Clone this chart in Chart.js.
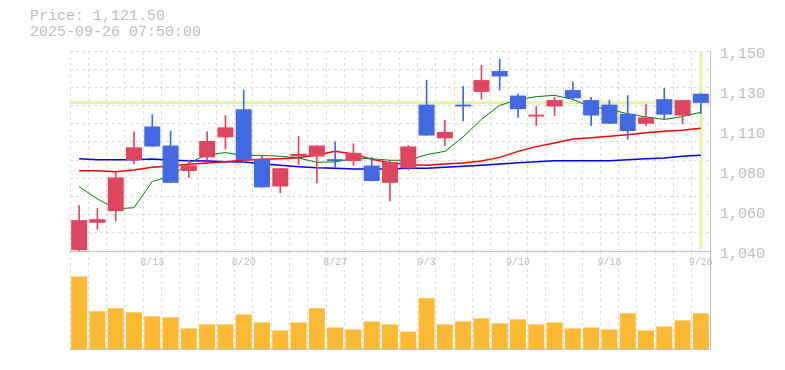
<!DOCTYPE html>
<html lang="ja">
<head>
<meta charset="UTF-8">
<title>Price chart</title>
<script src="https://cdn.jsdelivr.net/npm/chart.js"></script>
<style>
    body {
        margin: 0;
        background: #fff;
    }
    #wrap {
        position: relative;
        width: 785px;
        height: 370px;
    }
    #wrap canvas {
        position: absolute;
        left: 0;
        top: 0;
    }
    #info {
        position: absolute;
        left: 30px;
        top: 9px;
        font: 15px/16px "Liberation Mono", monospace;
        color: #bdbdbd;
        white-space: pre;
    }
</style>
</head>
<body>
<div id="wrap">
    <canvas id="volumeCanvas" width="785" height="370"></canvas>
    <canvas id="priceCanvas" width="785" height="370"></canvas>
    <div id="info">Price: 1,121.50
2025-09-26 07:50:00</div>
</div>

<script>
    // daily candles, 8/6 - 9/26
    const dates = ['8/6', '8/7', '8/8', '8/12', '8/13', '8/14', '8/15', '8/18', '8/19', '8/20',
        '8/21', '8/22', '8/25', '8/26', '8/27', '8/28', '8/29', '9/1', '9/2', '9/3',
        '9/4', '9/5', '9/8', '9/9', '9/10', '9/11', '9/12', '9/16', '9/17', '9/18',
        '9/19', '9/22', '9/24', '9/25', '9/26'];
    const labelDates = ['8/13', '8/20', '8/27', '9/3', '9/10', '9/18', '9/26'];

    const openPrices = [1040.5, 1055.5, 1062, 1090, 1108.5, 1098, 1084, 1091.5, 1102.5, 1118,
        1090.5, 1075.5, 1092, 1092, 1090.5, 1089.5, 1087, 1077.5, 1085.5, 1120.5,
        1102, 1120.5, 1127.5, 1139, 1125.5, 1114, 1119.5, 1128.5, 1123, 1120.5,
        1115.5, 1110, 1123.5, 1114.5, 1126.5];
    const highPrices = [1065, 1063.5, 1083.5, 1105.5, 1115, 1106, 1090, 1105.5, 1114.5, 1128.5,
        1092.5, 1085.5, 1103, 1098, 1100, 1099, 1091.5, 1089.5, 1098, 1134,
        1112, 1130.5, 1142, 1145.5, 1126.5, 1119.5, 1124.5, 1133, 1124.5, 1123,
        1125.5, 1120.5, 1129.5, 1123, 1126.5];
    const lowPrices = [1040, 1052, 1056.5, 1088, 1097.5, 1077.5, 1080.5, 1090, 1096, 1088.5,
        1075, 1072, 1087.5, 1077.5, 1086, 1087, 1078.5, 1067.5, 1084.5, 1103.5,
        1098, 1111.5, 1123.5, 1128.5, 1113.5, 1109, 1114.5, 1123, 1109, 1110,
        1101.5, 1109, 1112.5, 1110, 1115.5];
    const closePrices = [1057, 1057.5, 1080.5, 1097, 1097.5, 1077.5, 1087, 1100.5, 1108, 1090,
        1075, 1085.5, 1093.5, 1098, 1089.5, 1094, 1078.5, 1089, 1097.5, 1103.5,
        1105.5, 1119.5, 1134, 1136, 1118, 1115, 1123, 1124, 1114.5, 1110,
        1106, 1113.5, 1115, 1123, 1121.5];

    // moving averages
    const ma5 = [1075.4, 1068.6, 1063.2, 1063.8, 1078.3, 1081.1, 1088.4, 1093.0, 1094.1, 1092.6,
        1092.6, 1092.1, 1091.1, 1088.8, 1089.0, 1090.8, 1090.8, 1089.9, 1089.9, 1093.0,
        1094.8, 1102.7, 1112.4, 1120.1, 1123.2, 1124.9, 1125.6, 1123.4, 1119.2, 1117.9,
        1115.5, 1113.7, 1112.4, 1113.9, 1116.3];
    const ma25 = [1084.2, 1084.2, 1083.6, 1084.5, 1086.0, 1086.7, 1087.7, 1088.4, 1089.1, 1089.9,
        1090.4, 1090.8, 1091.3, 1092.8, 1094.8, 1093.3, 1090.4, 1088.6, 1087.5, 1087.1,
        1087.8, 1088.4, 1089.5, 1091.5, 1094.8, 1097.4, 1099.4, 1101.6, 1102.3, 1103.1,
        1104.0, 1105.1, 1105.8, 1106.4, 1107.5];
    const ma75 = [1090.8, 1090.2, 1090.2, 1090.2, 1090.6, 1089.9, 1089.7, 1089.5, 1089.1, 1088.9,
        1088.0, 1087.1, 1086.4, 1085.8, 1085.5, 1085.1, 1085.1, 1085.1, 1085.5, 1085.5,
        1086.0, 1086.6, 1087.1, 1087.8, 1088.6, 1089.1, 1089.7, 1089.7, 1089.7, 1089.7,
        1090.2, 1090.8, 1091.1, 1092.1, 1092.6];

    // volume (x100 shares)
    const volumes = [717, 373, 403, 363, 323, 313, 203, 243, 243, 343,
        263, 183, 263, 403, 213, 193, 273, 243, 173, 503,
        243, 273, 303, 253, 293, 243, 263, 203, 213, 193,
        353, 183, 223, 283, 353];

    const yTickValues = [1040, 1062, 1084, 1106, 1128, 1150];
    const yTickLabels = ['1,040', '1,060', '1,080', '1,110', '1,130', '1,150'];
    const currentPrice = 1121.5;

    const UP = '#e04560';
    const DOWN = '#4169e1';
    const candleColors = openPrices.map((o, i) => closePrices[i] >= o ? UP : DOWN);
    const gridColor = '#dcdcdc';
    const axisColor = '#c0c0c0';
    const textColor = '#bdbdbd';

    // current price / current day markers
    const markerPlugin = {
        id: 'markers',
        beforeDatasetsDraw(chart) {
            const { ctx, chartArea, scales } = chart;
            const y = scales.y.getPixelForValue(currentPrice);
            const x = scales.x.getPixelForValue(dates.length - 1);
            ctx.save();
            ctx.strokeStyle = '#e3f3a6';
            ctx.lineWidth = 3;
            ctx.beginPath();
            ctx.moveTo(chartArea.left, y);
            ctx.lineTo(chartArea.right, y);
            ctx.moveTo(x, chartArea.top);
            ctx.lineTo(x, chartArea.bottom - 2);
            ctx.stroke();
            ctx.restore();
        }
    };

    const lineSet = (data, color, width) => ({
        type: 'line',
        data: data,
        borderColor: color,
        borderWidth: width,
        pointRadius: 0,
        tension: 0,
        order: 2
    });

    new Chart(document.getElementById('priceCanvas'), {
        type: 'bar',
        data: {
            labels: dates,
            datasets: [
                {
                    data: openPrices.map((o, i) => [Math.min(o, closePrices[i]), Math.max(o, closePrices[i])]),
                    backgroundColor: candleColors,
                    barPercentage: 0.875,
                    categoryPercentage: 1,
                    grouped: false,
                    order: 0
                },
                {
                    data: lowPrices.map((l, i) => [l, highPrices[i]]),
                    backgroundColor: candleColors,
                    barThickness: 1,
                    grouped: false,
                    order: 1
                },
                lineSet(ma5, '#008000', 1),
                lineSet(ma25, '#ff0000', 1.5),
                lineSet(ma75, '#0000ff', 1.5)
            ]
        },
        options: {
            responsive: false,
            animation: false,
            layout: { padding: { top: 51, left: 70, right: 0, bottom: 0 } },
            plugins: { legend: { display: false }, tooltip: { enabled: false } },
            scales: {
                x: {
                    offset: true,
                    grid: { color: gridColor, offset: true, drawTicks: false },
                    border: { color: axisColor, dash: [3, 3] },
                    ticks: {
                        autoSkip: false,
                        maxRotation: 0,
                        padding: 5,
                        color: textColor,
                        font: { family: 'Liberation Mono', size: 10 },
                        callback: (v, i) => labelDates.includes(dates[i]) ? dates[i] : ''
                    },
                    afterFit: s => { s.height = 119; }
                },
                y: {
                    position: 'right',
                    min: 1040,
                    max: 1150,
                    grid: { display: false, drawTicks: false },
                    border: { color: axisColor },
                    afterBuildTicks: s => { s.ticks = yTickValues.map(v => ({ value: v })); },
                    ticks: {
                        padding: 10,
                        labelOffset: 3,
                        color: textColor,
                        font: { family: 'Liberation Mono', size: 15 },
                        callback: (v, i) => yTickLabels[i]
                    },
                    afterFit: s => { s.width = 75; }
                },
                yGrid: {
                    position: 'left',
                    min: 1040,
                    max: 1150,
                    grid: { color: gridColor, drawTicks: false },
                    border: { display: false, dash: [3, 3] },
                    ticks: { display: false, stepSize: 10 },
                    afterFit: s => { s.width = 0; }
                }
            }
        },
        plugins: [markerPlugin]
    });

    new Chart(document.getElementById('volumeCanvas'), {
        type: 'bar',
        data: {
            labels: dates,
            datasets: [{
                data: volumes,
                backgroundColor: '#fdb933',
                barPercentage: 0.875,
                categoryPercentage: 1
            }]
        },
        options: {
            responsive: false,
            animation: false,
            layout: { padding: { top: 251, left: 70, right: 0, bottom: 0 } },
            plugins: { legend: { display: false }, tooltip: { enabled: false } },
            scales: {
                x: {
                    offset: true,
                    grid: { color: gridColor, offset: true, drawTicks: false },
                    border: { color: axisColor, dash: [3, 3] },
                    ticks: { display: false },
                    afterFit: s => { s.height = 21; }
                },
                y: {
                    position: 'right',
                    min: 0,
                    max: 970,
                    grid: { display: false, drawTicks: false },
                    border: { color: axisColor },
                    ticks: { display: false },
                    afterFit: s => { s.width = 75; }
                }
            }
        }
    });
</script>
</body>
</html>
